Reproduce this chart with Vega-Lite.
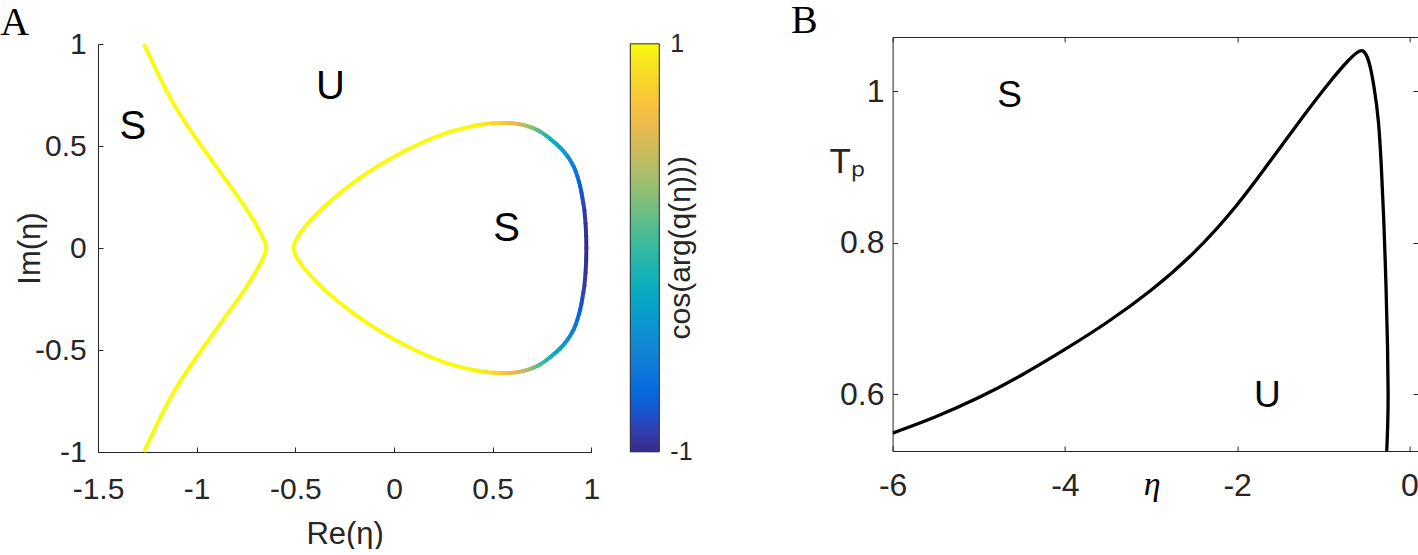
{
  "$schema": "https://vega.github.io/schema/vega-lite/v6.json",
  "padding": 0,
  "autosize": {"type": "pad"},
  "background": "white",
  "bounds": "flush",
  "spacing": 300.6,
  "config": {
    "view": {"stroke": null},
    "axis": {
      "domainColor": "#262626", "tickColor": "#262626", "labelColor": "#262626", "titleColor": "#262626",
      "domainWidth": 1, "tickWidth": 1, "tickSize": -5, "grid": false,
      "labelFont": "Liberation Sans", "titleFont": "Liberation Sans", "titleFontWeight": "normal",
      "labelFlush": false, "labelOverlap": false
    }
  },
  "datasets": {
    "a_line": [
      {"g": "L", "i": 0, "x": -1.268, "y": 1.0},
      {"g": "L", "i": 1, "x": -1.219, "y": 0.9},
      {"g": "L", "i": 2, "x": -1.169, "y": 0.8},
      {"g": "L", "i": 3, "x": -1.114, "y": 0.7},
      {"g": "L", "i": 4, "x": -1.048, "y": 0.6},
      {"g": "L", "i": 5, "x": -0.976, "y": 0.5},
      {"g": "L", "i": 6, "x": -0.902, "y": 0.4},
      {"g": "L", "i": 7, "x": -0.827, "y": 0.3},
      {"g": "L", "i": 8, "x": -0.752, "y": 0.2},
      {"g": "L", "i": 9, "x": -0.688, "y": 0.1},
      {"g": "L", "i": 10, "x": -0.664, "y": 0.05},
      {"g": "L", "i": 11, "x": -0.65, "y": 0.02},
      {"g": "L", "i": 12, "x": -0.645, "y": 0.0},
      {"g": "L", "i": 13, "x": -0.65, "y": -0.02},
      {"g": "L", "i": 14, "x": -0.664, "y": -0.05},
      {"g": "L", "i": 15, "x": -0.688, "y": -0.1},
      {"g": "L", "i": 16, "x": -0.752, "y": -0.2},
      {"g": "L", "i": 17, "x": -0.827, "y": -0.3},
      {"g": "L", "i": 18, "x": -0.902, "y": -0.4},
      {"g": "L", "i": 19, "x": -0.976, "y": -0.5},
      {"g": "L", "i": 20, "x": -1.048, "y": -0.6},
      {"g": "L", "i": 21, "x": -1.114, "y": -0.7},
      {"g": "L", "i": 22, "x": -1.169, "y": -0.8},
      {"g": "L", "i": 23, "x": -1.219, "y": -0.9},
      {"g": "L", "i": 24, "x": -1.268, "y": -1.0},
      {"g": "R", "i": 0, "x": 0.45, "y": 0.606},
      {"g": "R", "i": 1, "x": 0.4, "y": 0.598},
      {"g": "R", "i": 2, "x": 0.3, "y": 0.576},
      {"g": "R", "i": 3, "x": 0.2, "y": 0.542},
      {"g": "R", "i": 4, "x": 0.1, "y": 0.499},
      {"g": "R", "i": 5, "x": 0.0, "y": 0.449},
      {"g": "R", "i": 6, "x": -0.1, "y": 0.392},
      {"g": "R", "i": 7, "x": -0.2, "y": 0.326},
      {"g": "R", "i": 8, "x": -0.3, "y": 0.251},
      {"g": "R", "i": 9, "x": -0.38, "y": 0.18},
      {"g": "R", "i": 10, "x": -0.44, "y": 0.118},
      {"g": "R", "i": 11, "x": -0.48, "y": 0.068},
      {"g": "R", "i": 12, "x": -0.502, "y": 0.03},
      {"g": "R", "i": 13, "x": -0.512, "y": 0.0},
      {"g": "R", "i": 14, "x": -0.502, "y": -0.03},
      {"g": "R", "i": 15, "x": -0.48, "y": -0.068},
      {"g": "R", "i": 16, "x": -0.44, "y": -0.118},
      {"g": "R", "i": 17, "x": -0.38, "y": -0.18},
      {"g": "R", "i": 18, "x": -0.3, "y": -0.251},
      {"g": "R", "i": 19, "x": -0.2, "y": -0.326},
      {"g": "R", "i": 20, "x": -0.1, "y": -0.392},
      {"g": "R", "i": 21, "x": 0.0, "y": -0.449},
      {"g": "R", "i": 22, "x": 0.1, "y": -0.499},
      {"g": "R", "i": 23, "x": 0.2, "y": -0.542},
      {"g": "R", "i": 24, "x": 0.3, "y": -0.576},
      {"g": "R", "i": 25, "x": 0.4, "y": -0.598},
      {"g": "R", "i": 26, "x": 0.45, "y": -0.606}
    ],
    "a_seg": [
      {"x": 0.4, "y": 0.598, "x2": 0.45, "y2": 0.606, "c": 0.975},
      {"x": 0.45, "y": 0.606, "x2": 0.5, "y2": 0.611, "c": 0.91},
      {"x": 0.5, "y": 0.611, "x2": 0.54, "y2": 0.613, "c": 0.825},
      {"x": 0.54, "y": 0.613, "x2": 0.573, "y2": 0.613, "c": 0.74},
      {"x": 0.573, "y": 0.613, "x2": 0.6, "y2": 0.612, "c": 0.66},
      {"x": 0.6, "y": 0.612, "x2": 0.63, "y2": 0.608, "c": 0.585},
      {"x": 0.63, "y": 0.608, "x2": 0.655, "y2": 0.603, "c": 0.51},
      {"x": 0.655, "y": 0.603, "x2": 0.674, "y2": 0.598, "c": 0.435},
      {"x": 0.674, "y": 0.598, "x2": 0.695, "y2": 0.591, "c": 0.355},
      {"x": 0.695, "y": 0.591, "x2": 0.71, "y2": 0.586, "c": 0.28},
      {"x": 0.71, "y": 0.586, "x2": 0.727, "y2": 0.578, "c": 0.21},
      {"x": 0.727, "y": 0.578, "x2": 0.742, "y2": 0.57, "c": 0.135},
      {"x": 0.742, "y": 0.57, "x2": 0.76, "y2": 0.558, "c": 0.065},
      {"x": 0.76, "y": 0.558, "x2": 0.775, "y2": 0.548, "c": 0.0},
      {"x": 0.775, "y": 0.548, "x2": 0.792, "y2": 0.535, "c": -0.065},
      {"x": 0.792, "y": 0.535, "x2": 0.809, "y2": 0.521, "c": -0.13},
      {"x": 0.809, "y": 0.521, "x2": 0.825, "y2": 0.508, "c": -0.185},
      {"x": 0.825, "y": 0.508, "x2": 0.84, "y2": 0.494, "c": -0.235},
      {"x": 0.84, "y": 0.494, "x2": 0.855, "y2": 0.479, "c": -0.28},
      {"x": 0.855, "y": 0.479, "x2": 0.868, "y2": 0.464, "c": -0.32},
      {"x": 0.868, "y": 0.464, "x2": 0.88, "y2": 0.449, "c": -0.37},
      {"x": 0.88, "y": 0.449, "x2": 0.891, "y2": 0.433, "c": -0.425},
      {"x": 0.891, "y": 0.433, "x2": 0.901, "y2": 0.417, "c": -0.475},
      {"x": 0.901, "y": 0.417, "x2": 0.911, "y2": 0.399, "c": -0.53},
      {"x": 0.911, "y": 0.399, "x2": 0.921, "y2": 0.375, "c": -0.585},
      {"x": 0.921, "y": 0.375, "x2": 0.93, "y2": 0.35, "c": -0.635},
      {"x": 0.93, "y": 0.35, "x2": 0.937, "y2": 0.326, "c": -0.685},
      {"x": 0.937, "y": 0.326, "x2": 0.944, "y2": 0.301, "c": -0.735},
      {"x": 0.944, "y": 0.301, "x2": 0.95, "y2": 0.273, "c": -0.78},
      {"x": 0.95, "y": 0.273, "x2": 0.955, "y2": 0.245, "c": -0.815},
      {"x": 0.955, "y": 0.245, "x2": 0.96, "y2": 0.216, "c": -0.85},
      {"x": 0.96, "y": 0.216, "x2": 0.965, "y2": 0.186, "c": -0.885},
      {"x": 0.965, "y": 0.186, "x2": 0.971, "y2": 0.12, "c": -0.92},
      {"x": 0.971, "y": 0.12, "x2": 0.974, "y2": 0.06, "c": -0.955},
      {"x": 0.974, "y": 0.06, "x2": 0.975, "y2": 0.0, "c": -0.98},
      {"x": 0.4, "y": -0.598, "x2": 0.45, "y2": -0.606, "c": 0.975},
      {"x": 0.45, "y": -0.606, "x2": 0.5, "y2": -0.611, "c": 0.91},
      {"x": 0.5, "y": -0.611, "x2": 0.54, "y2": -0.613, "c": 0.825},
      {"x": 0.54, "y": -0.613, "x2": 0.573, "y2": -0.613, "c": 0.74},
      {"x": 0.573, "y": -0.613, "x2": 0.6, "y2": -0.612, "c": 0.66},
      {"x": 0.6, "y": -0.612, "x2": 0.63, "y2": -0.608, "c": 0.585},
      {"x": 0.63, "y": -0.608, "x2": 0.655, "y2": -0.603, "c": 0.51},
      {"x": 0.655, "y": -0.603, "x2": 0.674, "y2": -0.598, "c": 0.435},
      {"x": 0.674, "y": -0.598, "x2": 0.695, "y2": -0.591, "c": 0.355},
      {"x": 0.695, "y": -0.591, "x2": 0.71, "y2": -0.586, "c": 0.28},
      {"x": 0.71, "y": -0.586, "x2": 0.727, "y2": -0.578, "c": 0.21},
      {"x": 0.727, "y": -0.578, "x2": 0.742, "y2": -0.57, "c": 0.135},
      {"x": 0.742, "y": -0.57, "x2": 0.76, "y2": -0.558, "c": 0.065},
      {"x": 0.76, "y": -0.558, "x2": 0.775, "y2": -0.548, "c": 0.0},
      {"x": 0.775, "y": -0.548, "x2": 0.792, "y2": -0.535, "c": -0.065},
      {"x": 0.792, "y": -0.535, "x2": 0.809, "y2": -0.521, "c": -0.13},
      {"x": 0.809, "y": -0.521, "x2": 0.825, "y2": -0.508, "c": -0.185},
      {"x": 0.825, "y": -0.508, "x2": 0.84, "y2": -0.494, "c": -0.235},
      {"x": 0.84, "y": -0.494, "x2": 0.855, "y2": -0.479, "c": -0.28},
      {"x": 0.855, "y": -0.479, "x2": 0.868, "y2": -0.464, "c": -0.32},
      {"x": 0.868, "y": -0.464, "x2": 0.88, "y2": -0.449, "c": -0.37},
      {"x": 0.88, "y": -0.449, "x2": 0.891, "y2": -0.433, "c": -0.425},
      {"x": 0.891, "y": -0.433, "x2": 0.901, "y2": -0.417, "c": -0.475},
      {"x": 0.901, "y": -0.417, "x2": 0.911, "y2": -0.399, "c": -0.53},
      {"x": 0.911, "y": -0.399, "x2": 0.921, "y2": -0.375, "c": -0.585},
      {"x": 0.921, "y": -0.375, "x2": 0.93, "y2": -0.35, "c": -0.635},
      {"x": 0.93, "y": -0.35, "x2": 0.937, "y2": -0.326, "c": -0.685},
      {"x": 0.937, "y": -0.326, "x2": 0.944, "y2": -0.301, "c": -0.735},
      {"x": 0.944, "y": -0.301, "x2": 0.95, "y2": -0.273, "c": -0.78},
      {"x": 0.95, "y": -0.273, "x2": 0.955, "y2": -0.245, "c": -0.815},
      {"x": 0.955, "y": -0.245, "x2": 0.96, "y2": -0.216, "c": -0.85},
      {"x": 0.96, "y": -0.216, "x2": 0.965, "y2": -0.186, "c": -0.885},
      {"x": 0.965, "y": -0.186, "x2": 0.971, "y2": -0.12, "c": -0.92},
      {"x": 0.971, "y": -0.12, "x2": 0.974, "y2": -0.06, "c": -0.955},
      {"x": 0.974, "y": -0.06, "x2": 0.975, "y2": 0.0, "c": -0.98}
    ],
    "a_text": [
      {"t": "S", "x": -1.324, "y": 0.591},
      {"t": "U", "x": -0.322, "y": 0.791},
      {"t": "S", "x": 0.571, "y": 0.093}
    ],
    "b_line": [
      {"i": 0, "x": -6.0, "y": 0.549},
      {"i": 1, "x": -5.5, "y": 0.57},
      {"i": 2, "x": -5.0, "y": 0.595},
      {"i": 3, "x": -4.5, "y": 0.625},
      {"i": 4, "x": -4.0, "y": 0.659},
      {"i": 5, "x": -3.5, "y": 0.695},
      {"i": 6, "x": -3.0, "y": 0.736},
      {"i": 7, "x": -2.5, "y": 0.785},
      {"i": 8, "x": -2.0, "y": 0.848},
      {"i": 9, "x": -1.6, "y": 0.91},
      {"i": 10, "x": -1.2, "y": 0.972},
      {"i": 11, "x": -0.9, "y": 1.016},
      {"i": 12, "x": -0.7, "y": 1.042},
      {"i": 13, "x": -0.6, "y": 1.052},
      {"i": 14, "x": -0.54, "y": 1.0555},
      {"i": 15, "x": -0.47, "y": 1.043},
      {"i": 16, "x": -0.41, "y": 1.007},
      {"i": 17, "x": -0.355, "y": 0.962},
      {"i": 18, "x": -0.325, "y": 0.9},
      {"i": 19, "x": -0.296, "y": 0.83},
      {"i": 20, "x": -0.27, "y": 0.74},
      {"i": 21, "x": -0.252, "y": 0.66},
      {"i": 22, "x": -0.245, "y": 0.6},
      {"i": 23, "x": -0.25, "y": 0.56},
      {"i": 24, "x": -0.265, "y": 0.52}
    ],
    "b_text": [
      {"t": "S", "x": -4.643, "y": 0.994},
      {"t": "U", "x": -1.649, "y": 0.598}
    ]
  },
  "resolve": {"scale": {"color": "independent"}, "legend": {"color": "independent"}},
  "hconcat": [
    {
      "width": 493.3,
      "height": 415,
      "title": {"text": "A", "anchor": "start", "frame": "group", "font": "Liberation Serif", "fontSize": 40, "fontWeight": "normal", "color": "black", "dx": -97.7, "offset": -46, "baseline": "alphabetic"},
      "encoding": {
        "x": {"field": "x", "type": "quantitative",
          "scale": {"domain": [-1.5, 1], "nice": false, "zero": false},
          "axis": {"values": [-1.5, -1, -0.5, 0, 0.5, 1], "format": "~g", "labelExpr": "replace(datum.label, '−', '-')",
            "labelFontSize": 30, "labelPadding": 27.5, "title": "Re(η)", "titleFontSize": 31,
            "titleX": 246.65, "titleY": 91, "titleBaseline": "alphabetic", "titleAlign": "center"}},
        "y": {"field": "y", "type": "quantitative",
          "scale": {"domain": [-1, 1], "nice": false, "zero": false, "range": [415, 7]},
          "axis": {"values": [-1, -0.5, 0, 0.5, 1], "format": "~g", "labelExpr": "replace(datum.label, '−', '-')",
            "labelFontSize": 30, "labelPadding": 16.7, "title": "Im(η)", "titleFontSize": 31,
            "titleX": -58.2, "titleY": 211, "titleBaseline": "alphabetic", "titleAlign": "center"}}
      },
      "layer": [
        {
          "data": {"name": "a_line"},
          "mark": {"type": "line", "color": "#f9fb0e", "strokeWidth": 4, "strokeJoin": "round", "interpolate": "basis"},
          "encoding": {"detail": {"field": "g"}, "order": {"field": "i", "type": "quantitative"}}
        },
        {
          "data": {"name": "a_seg"},
          "mark": {"type": "rule", "strokeWidth": 4, "strokeCap": "round"},
          "encoding": {
            "x2": {"field": "x2"},
            "y2": {"field": "y2"},
            "color": {"field": "c", "type": "quantitative",
              "scale": {
                "domain": [-1, -0.875, -0.75, -0.625, -0.5, -0.375, -0.25, -0.125, 0, 0.125, 0.25, 0.375, 0.5, 0.625, 0.75, 0.875, 1],
                "range": ["#352a87", "#3243ba", "#0363e1", "#0d75dc", "#1485d4", "#0998d1", "#06a7c6", "#15b1b4", "#38b99e", "#59bd8b", "#87bf77", "#aebd67", "#d1bb59", "#f1b94a", "#fec832", "#f5de21", "#f9fb0e"],
                "interpolate": "rgb"
              },
              "legend": {
                "orient": "none", "legendX": 532.3, "legendY": 6.8, "padding": 0,
                "direction": "vertical", "gradientLength": 408, "gradientThickness": 29,
                "gradientStrokeColor": "#262626", "gradientStrokeWidth": 1,
                "values": [-1, 1], "format": "~g", "labelExpr": "replace(datum.label, '−', '-')",
                "labelFontSize": 25, "labelFont": "Liberation Sans", "labelColor": "#262626", "labelOffset": 11,
                "labelBaseline": "middle", "labelOverlap": false,
                "title": "cos(arg(q(η)))", "titleOrient": "right", "titleFont": "Liberation Sans",
                "titleFontSize": 30, "titleFontWeight": "normal", "titleColor": "#262626", "titleLimit": 600,
                "encode": {
                  "title": {"update": {"angle": {"value": -90}, "dy": {"value": -1}}},
                  "labels": {"update": {"baseline": {"value": "middle"}}}
                }
              }
            }
          }
        },
        {
          "data": {"name": "a_text"},
          "mark": {"type": "text", "font": "Liberation Sans", "fontSize": 40, "color": "black", "align": "center", "baseline": "middle"},
          "encoding": {"text": {"field": "t"}}
        }
      ]
    },
    {
      "width": 525.4,
      "height": 414,
      "title": {"text": "B", "anchor": "start", "frame": "group", "font": "Liberation Serif", "fontSize": 40, "fontWeight": "normal", "color": "black", "dx": -101.6, "offset": -36.3, "baseline": "alphabetic"},
      "layer": [
        {
          "data": {"name": "b_line"},
          "mark": {"type": "line", "color": "black", "strokeWidth": 3.3, "strokeJoin": "round", "interpolate": "basis", "clip": true},
          "encoding": {
            "x": {"field": "x", "type": "quantitative",
              "scale": {"domain": [-6, 0.1], "nice": false, "zero": false},
              "axis": {"values": [-6, -4, -2, 0], "format": "~g", "labelExpr": "replace(datum.label, '−', '-')",
                "labelFontSize": 32, "labelPadding": 24.2, "title": "η", "titleFont": "Liberation Serif", "titleFontStyle": "italic",
                "titleFontSize": 34, "titleColor": "black", "titleX": 259, "titleY": 43, "titleBaseline": "alphabetic", "titleAlign": "center"}},
            "y": {"field": "y", "type": "quantitative",
              "scale": {"domain": [0.5254, 1.0713], "nice": false, "zero": false},
              "axis": {"values": [0.6, 0.8, 1], "format": "~g",
                "labelFontSize": 32, "labelPadding": 13.6, "title": "Tₚ", "titleAngle": 0, "titleFontSize": 35,
                "titleX": -63.6, "titleY": 135.8, "titleBaseline": "alphabetic", "titleAlign": "left"}},
            "order": {"field": "i", "type": "quantitative"}
          }
        },
        {
          "data": {"name": "b_text"},
          "mark": {"type": "text", "font": "Liberation Sans", "fontSize": 37, "color": "black", "align": "center", "baseline": "middle"},
          "encoding": {
            "x": {"field": "x", "type": "quantitative",
              "scale": {"domain": [-6, 0.1], "nice": false, "zero": false},
              "axis": {"orient": "top", "values": [-6, -4, -2, 0], "labels": false, "title": null}},
            "y": {"field": "y", "type": "quantitative",
              "scale": {"domain": [0.5254, 1.0713], "nice": false, "zero": false},
              "axis": {"orient": "right", "values": [0.6, 0.8, 1], "labels": false, "title": null}},
            "text": {"field": "t"}
          }
        }
      ],
      "resolve": {"axis": {"x": "independent", "y": "independent"}}
    }
  ]
}
